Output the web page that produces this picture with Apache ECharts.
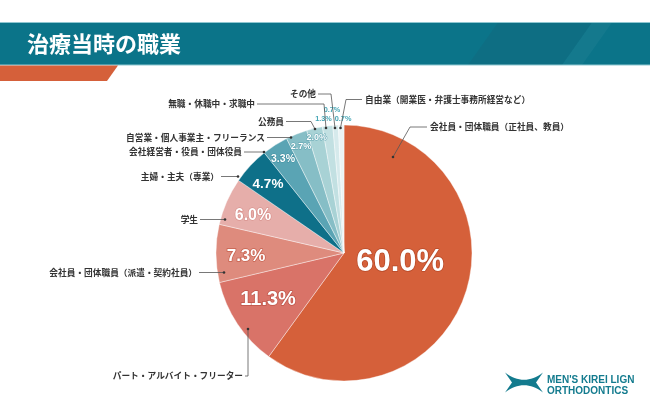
<!DOCTYPE html>
<html><head><meta charset="utf-8">
<script src="https://cdn.jsdelivr.net/npm/echarts/dist/echarts.min.js"></script>
<style>html,body{margin:0;padding:0;background:#fff}#c{width:650px;height:410px}</style>
</head><body><div id="c"></div>
<script>
// ---- data ----
const title = '治療当時の職業';
const categories = [
  '会社員・団体職員（正社員、教員）',
  'パート・アルバイト・フリーター',
  '会社員・団体職員（派遣・契約社員）',
  '学生',
  '主婦・主夫（専業）',
  '会社経営者・役員・団体役員',
  '自営業・個人事業主・フリーランス',
  '公務員',
  '無職・休職中・求職中',
  'その他',
  '自由業（開業医・弁護士事務所経営など）'
];
const percentages = [60.0, 11.3, 7.3, 6.0, 4.7, 3.3, 2.7, 2.0, 1.3, 0.7, 0.7];
const logoLines = ["MEN'S KIREI LIGN", 'ORTHODONTICS'];

// ---- styles / layout ----
const CX = 344, CY = 253, R = 128;
const sliceColors = ['#D5603A','#D97368','#DE8B7D','#E6AEAA','#0E7089','#5AA4B4','#86BEC6','#A8D2D5','#C2E0E2','#D6EAEC','#EAF4F5'];
// percentage label placement: [angle clockwise from top (deg), distance from centre (px)]
const pctPos = [[100,57],[238.8,88.8],[268.2,98],[292.1,98.2],[312.2,102.6],[327,112],[338.1,115.3],[346.7,118.9],[351.3,135.3],[355.2,143.5],[359.6,133.7]];
// [fontSize, fill, border, borderWidth]
const pctStyle = [
  [31,'#fff','#B84A28',1.5],[20,'#fff','#BF5549',1.5],[17,'#fff','#C6624F',1.5],[16,'#fff','#D48A85',1.2],
  [13.5,'#fff','#0E7089',0],[10.5,'#fff','#3E8C9D',1],[9,'#fff','#5EA3B0',1],[9,'#fff','#5EA3B0',1],
  [7.3,'#45A6B6','#fff',1.5],[7.3,'#45A6B6','#fff',1.5],[7.3,'#45A6B6','#fff',1.5]
];
// category label anchors and leader lines
const leaders = [
  {x:430,y:127,align:'left', pts:[[393,157],[410,127],[427,127]]},
  {x:243,y:376,align:'right',pts:[[248,329],[248,376],[245,376]]},
  {x:197,y:272.5,align:'right',pts:[[224,272.5],[211,272.5],[199,272.5]]},
  {x:198,y:219.5,align:'right',pts:[[225,219.5],[212,219.5],[200,219.5]]},
  {x:219,y:176.5,align:'right',pts:[[238,176.5],[229,176.5],[221,176.5]]},
  {x:242,y:152,align:'right',pts:[[264,152],[254,152],[244,152]]},
  {x:265,y:137.5,align:'right',pts:[[291,137.5],[278,137.5],[267,137.5]]},
  {x:284,y:121.5,align:'right',pts:[[315,129],[311,121.5],[286,121.5]]},
  {x:255,y:104,align:'right',pts:[[326,128],[324,104],[257,104]]},
  {x:316,y:94,align:'right',pts:[[335,128],[331,94],[318,94]]},
  {x:365,y:99.5,align:'left', pts:[[340.5,128],[346,99.5],[362,99.5]]}
];

// logo ribbon outline
function quad(p0, c, p1, n) {
  const out = [];
  for (let k = 0; k <= n; k++) {
    const t = k / n, u = 1 - t;
    out.push([u*u*p0[0] + 2*u*t*c[0] + t*t*p1[0], u*u*p0[1] + 2*u*t*c[1] + t*t*p1[1]]);
  }
  return out;
}
const logoPts = [].concat(
  quad([505,372.5],[524,387],[543,372.5],16),
  [[536,382.5]],
  quad([543,392.5],[524,378],[505,392.5],16),
  [[512,382.5]]
);

const chart = echarts.init(document.getElementById('c'), null, {renderer:'canvas'});
const jp = '"Noto Sans CJK JP", "Noto Sans", sans-serif';

const graphics = [
  {type:'rect', shape:{x:0,y:22,width:650,height:43}, style:{fill:'#0B7489'}, z:1},
  {type:'polygon', shape:{points:[[468,65],[498,22.5],[592,22.5],[562,65]]}, style:{fill:'rgba(40,70,90,0.13)'}, z:2},
  {type:'polygon', shape:{points:[[562,65],[592,22.5],[612,22.5],[582,65]]}, style:{fill:'rgba(255,255,255,0.04)'}, z:2},
  {type:'rect', shape:{x:0,y:22,width:650,height:1}, style:{fill:'#8FC7D1'}, z:3},
  {type:'rect', shape:{x:0,y:64.5,width:650,height:1}, style:{fill:'#8FC7D1'}, z:3},
  {type:'polygon', shape:{points:[[0,65.5],[118,65.5],[107,81],[0,81]]}, style:{fill:'#D5603A'}, z:3},
  {type:'text', x:27, y:44, style:{text:title, fill:'#fff', font:'bold 22px '+jp, verticalAlign:'middle'}, z:4},
  {type:'polygon', shape:{points:logoPts}, style:{fill:'#137B8E'}, z:4},
  {type:'text', x:547, y:380, style:{text:logoLines[0], fill:'#137B8E', font:'bold 10px "Liberation Sans", sans-serif', verticalAlign:'middle'}, z:4},
  {type:'text', x:547, y:391, style:{text:logoLines[1], fill:'#137B8E', font:'bold 10px "Liberation Sans", sans-serif', verticalAlign:'middle'}, z:4}
];
leaders.forEach(L => graphics.push({type:'circle', shape:{cx:L.pts[0][0], cy:L.pts[0][1], r:1.3}, style:{fill:'#333'}, z:100}));

chart.setOption({
  animation:false,
  backgroundColor:'#fff',
  graphic: graphics,
  series:[
    {
      type:'pie', center:[CX,CY], radius:[0,R], startAngle:90, clockwise:true,
      silent:true, emphasis:{disabled:true}, z:2,
      itemStyle:{borderColor:'#fff', borderWidth:0.4},
      data: categories.map((n,i)=>({
        name:n, value:percentages[i],
        itemStyle:{color:sliceColors[i]},
        label:{fontSize:pctStyle[i][0], color:pctStyle[i][1], textBorderColor:pctStyle[i][2], textBorderWidth:pctStyle[i][3]}
      })),
      label:{show:true, position:'inside', fontFamily:'"Liberation Sans", Arial, sans-serif', fontWeight:'bold',
             formatter: p => p.value.toFixed(1) + '%'},
      labelLine:{show:false},
      labelLayout: p => {
        const a = pctPos[p.dataIndex][0]*Math.PI/180, r = pctPos[p.dataIndex][1];
        return {x: CX + r*Math.sin(a), y: CY - r*Math.cos(a), align:'center', verticalAlign:'middle'};
      }
    },
    {
      type:'pie', center:[CX,CY], radius:[0,R], startAngle:90, clockwise:true,
      silent:true, emphasis:{disabled:true}, avoidLabelOverlap:false, z:3,
      data: categories.map((n,i)=>({name:n, value:percentages[i], itemStyle:{color:'rgba(0,0,0,0)'}})),
      label:{show:true, position:'outside', formatter:'{b}', fontSize:8.7, fontFamily:jp, fontWeight:'bold', color:'#333'},
      labelLine:{show:true, lineStyle:{color:'#555', width:0.8}},
      labelLayout: p => {
        const L = leaders[p.dataIndex];
        return {x:L.x, y:L.y, align:L.align, verticalAlign:'middle', labelLinePoints:L.pts};
      }
    }
  ]
});
</script>
</body></html>
